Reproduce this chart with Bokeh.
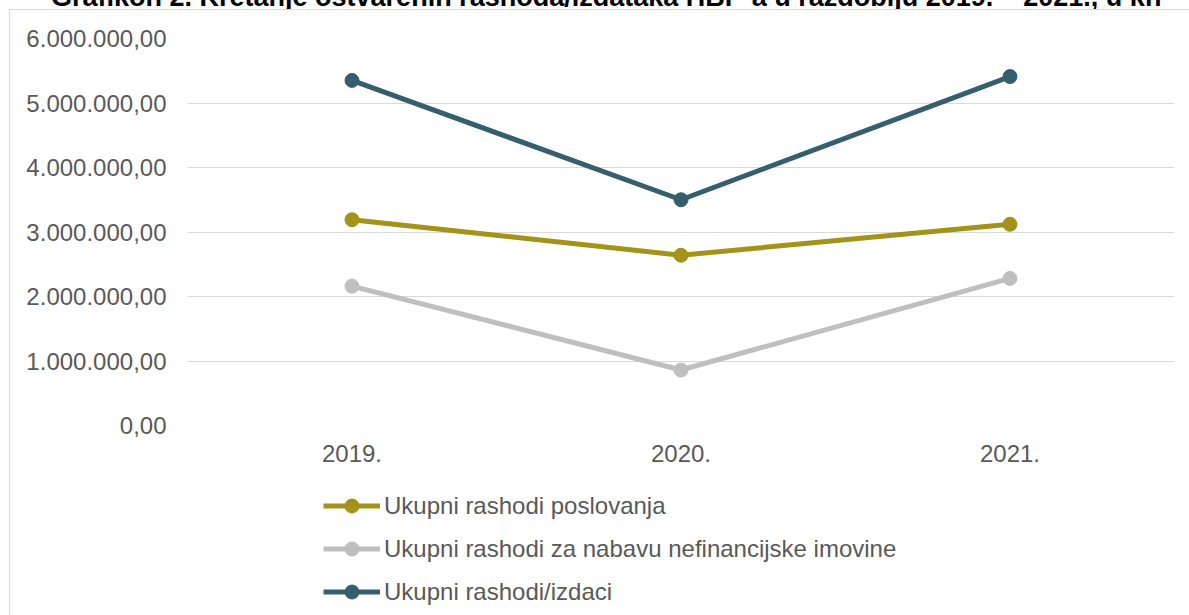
from bokeh.plotting import figure
from bokeh.layouts import column
from bokeh.models import (Range1d, FactorRange, FixedTicker, Legend, LegendItem, Div)
from bokeh.embed import file_html
from bokeh.resources import INLINE

years = ["2019.", "2020.", "2021."]
poslovanja = [3190000, 2640000, 3120000]
nefinancijska = [2160000, 860000, 2280000]
ukupno = [5350000, 3500000, 5410000]
series_names = ["Ukupni rashodi poslovanja",
                "Ukupni rashodi za nabavu nefinancijske imovine",
                "Ukupni rashodi/izdaci"]
y_ticks = [0, 1000000, 2000000, 3000000, 4000000, 5000000, 6000000]
y_tick_labels = ["0,00", "1.000.000,00", "2.000.000,00", "3.000.000,00",
                 "4.000.000,00", "5.000.000,00", "6.000.000,00"]
title_text = "Grafikon 2. Kretanje ostvarenih rashoda/izdataka HBP-a u razdoblju 2019. – 2021., u kn"

colors = ["#A39318", "#BFBFBF", "#365F6E"]
FONT = "Liberation Sans"
TXT = "#595959"
BORDER = "#D9D9D9"

bg_top = ("linear-gradient({b},{b}) 9px 0px / 1px 100% no-repeat, "
          "linear-gradient({b},{b}) 9px 0px / 100% 1px no-repeat, white").format(b=BORDER)
bg_side = "linear-gradient({b},{b}) 9px 0px / 1px 100% no-repeat, white".format(b=BORDER)

# title strip (only the lower part of the title is visible, as in the reference)
title_div = Div(
    text=('<div style="white-space:nowrap; font-family:\'Liberation Sans\'; font-weight:bold; '
          'font-size:27px; line-height:27px; color:black; position:relative; top:-16px; '
          'left:51px;">%s</div>' % title_text),
    width=1189, height=9, margin=0,
    styles={"overflow": "hidden", "background": "white"})

# main chart
p = figure(width=1189, height=466,
           x_range=FactorRange(factors=years, range_padding=0),
           y_range=Range1d(0, 6000000),
           output_backend="svg", toolbar_location=None,
           min_border_left=187, min_border_right=15,
           min_border_top=29, min_border_bottom=50,
           styles={"background": bg_top})
p.outline_line_color = None
p.background_fill_color = None
p.border_fill_color = None

for vals, col in zip([poslovanja, nefinancijska, ukupno], colors):
    p.line(years, vals, line_width=5, line_color=col)
    p.scatter(years, vals, size=14, fill_color=col, line_color=col)

p.xgrid.visible = False
p.ygrid.ticker = FixedTicker(ticks=y_ticks)
p.ygrid.grid_line_color = BORDER
p.ygrid.grid_line_width = 1

p.yaxis.ticker = FixedTicker(ticks=y_ticks)
p.yaxis.major_label_overrides = dict(zip(y_ticks, y_tick_labels))
for ax in (p.xaxis, p.yaxis):
    ax.axis_line_color = None
    ax.major_tick_line_color = None
    ax.minor_tick_line_color = None
    ax.major_tick_out = 0
    ax.major_tick_in = 0
    ax.major_label_text_font = FONT
    ax.major_label_text_font_size = "24px"
    ax.major_label_text_color = TXT
p.yaxis.major_label_standoff = 21
p.xaxis.major_label_standoff = 19

# legend strip below the chart
lg = figure(width=1189, height=140, x_range=Range1d(0, 1), y_range=Range1d(0, 1),
            output_backend="svg", toolbar_location=None,
            x_axis_location=None, y_axis_location=None, min_border=0,
            styles={"background": bg_side})
lg.outline_line_color = None
lg.background_fill_color = None
lg.border_fill_color = None
lg.xgrid.visible = False
lg.ygrid.visible = False

items = []
for name, col in zip(series_names, colors):
    lr = lg.line(x=[2, 3], y=[2, 2], line_width=5, line_color=col)
    sr = lg.scatter(x=[2], y=[2], size=14, fill_color=col, line_color=col)
    items.append(LegendItem(label=name, renderers=[lr, sr]))

legend = Legend(items=items, location=(136, 6), orientation="vertical",
                glyph_width=57, glyph_height=35, spacing=8, padding=0, margin=0,
                label_standoff=4, label_text_font=FONT, label_text_font_size="24px",
                label_text_color=TXT, border_line_color=None,
                background_fill_alpha=0)
lg.add_layout(legend, "center")

layout = column(title_div, p, lg, spacing=0)
open("out.html", "w").write(file_html(layout, INLINE))
